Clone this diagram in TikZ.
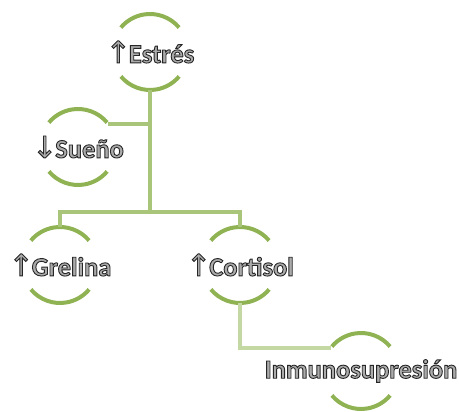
\documentclass[tikz,border=0pt]{standalone}
\usepackage{fontspec}
\setmainfont{Carlito}
\newfontfamily\arrowfont{DejaVu Sans}
\usetikzlibrary{positioning}
\definecolor{ringgreen}{HTML}{8FB253}
\definecolor{linkgreen}{HTML}{A8C57A}
\definecolor{palelink}{HTML}{C4D8A3}
\definecolor{labelfill}{HTML}{ABABAB}
% outlined text: fill light grey, stroke dark grey
\newcommand{\lbl}[1]{\textcolor{labelfill}{\special{pdf:literal direct 0.15 G 0.9 w 2 Tr}#1\special{pdf:literal direct 0 Tr}}}
\newcommand{\uparr}{{\mdseries\arrowfont\fontsize{30}{30}\selectfont ↑}\kern-2pt}
\newcommand{\downarr}{{\mdseries\arrowfont\fontsize{30}{30}\selectfont ↓}\kern-2pt}

\begin{document}
\begin{tikzpicture}[
    x=1pt, y=1pt,
    every label/.style={font=\bfseries\fontsize{26.5}{30}\selectfont, inner sep=0pt},
    bubble/.style={circle, minimum size=76pt, inner sep=0pt, outer sep=0pt},
    ring/.style={ringgreen, line width=4pt},
    link/.style={linkgreen, line width=4pt},
    weaklink/.style={palelink, line width=4pt}
]
\useasboundingbox (0,0) rectangle (459,412);

% Bubbles
\node[bubble, label=center:{\lbl{\uparr Estrés}}] (estres) at (150,360) {};
\node[bubble, label=center:{\lbl{\downarr Sueño}}] (sueno) at (78,265) {};
\node[bubble, label=center:{\lbl{\uparr Grelina}}] (grelina) at (60,147) {};
\node[bubble, label=center:{\lbl{\uparr Cortisol}}] (cortisol) at (240,147) {};
\node[bubble, label=center:{\lbl{Inmunosupresión}}] (inmuno) at (361,41) {};

% Rings
\foreach \n in {estres, sueno, grelina, cortisol, inmuno} {
    \draw[ring] (\n.40) arc[start angle=40, end angle=140, radius=38];
    \draw[ring] (\n.220) arc[start angle=220, end angle=320, radius=38];
}

% Links
\coordinate (split) at (150,200);
\draw[link] (estres.south) -- (split);
\draw[link] (sueno.38) -- (sueno.38 -| estres.south);
\draw[link] (grelina.north) |- (split) -| (cortisol.north);
\draw[weaklink] (cortisol.south) |- (inmuno.142);

\end{tikzpicture}
\end{document}
